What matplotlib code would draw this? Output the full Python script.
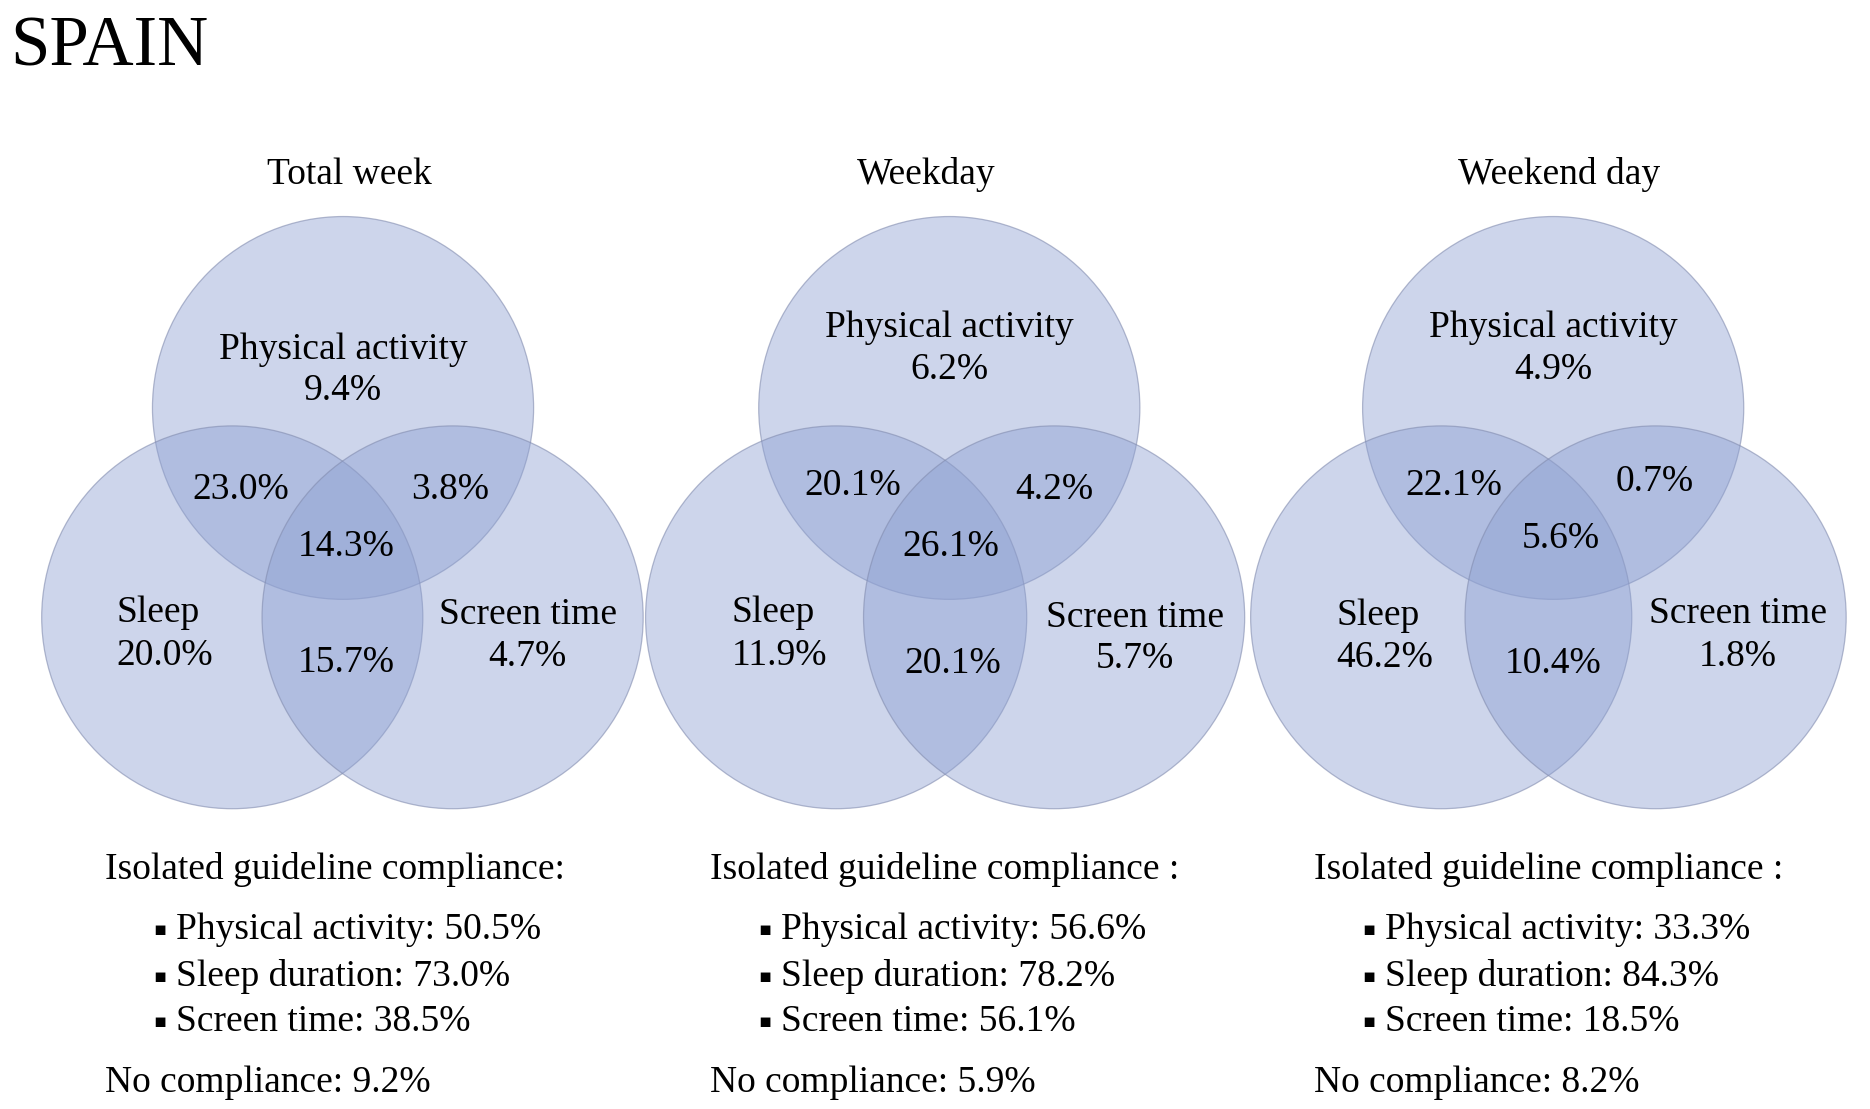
import matplotlib.pyplot as plt
from matplotlib.patches import Circle

# Venn diagrams of guideline compliance, Spain
panels = ["Total week", "Weekday", "Weekend day"]
pa_only = [9.4, 6.2, 4.9]
sleep_only = [20.0, 11.9, 46.2]
screen_only = [4.7, 5.7, 1.8]
pa_sleep = [23.0, 20.1, 22.1]
pa_screen = [3.8, 4.2, 0.7]
sleep_screen = [15.7, 20.1, 10.4]
all_three = [14.3, 26.1, 5.6]

headers = ["Isolated guideline compliance:",
           "Isolated guideline compliance :",
           "Isolated guideline compliance :"]
iso_pa = [50.5, 56.6, 33.3]
iso_sleep = [73.0, 78.2, 84.3]
iso_screen = [38.5, 56.1, 18.5]
no_compliance = [9.2, 5.9, 8.2]

# layout (page units, y down)
W, H = 1570, 927
panel_x = [0, 508, 1015]
R = 160
top_c = [(288, 341), (797, 341), (1304, 341)]
left_c = [(195, 516), (702, 516), (1210, 516)]
right_c = [(380, 516), (885, 516), (1390, 516)]
title_x = [293, 778, 1309]
pa_pos = [(288, 292, 327), (797, 274, 309), (1304, 274, 309)]
ps_pos = [(202, 409), (716, 406), (1221, 406)]
pt_pos = [(378, 409), (885, 409), (1389, 403)]
all_pos = [(291, 457), (798, 457), (1310, 450)]
sl_pos = [(98, 512, 548), (614, 512, 548), (1122, 515, 550)]
sc_pos = [(443, 514, 549), (953, 516, 551), (1459, 513, 549)]
st_pos = [(291, 554), (800, 555), (1304, 555)]

serif = ["Liberation Serif", "DejaVu Serif"]
fs = 27
fill = (141 / 255, 160 / 255, 210 / 255)
edge = (130 / 255, 140 / 255, 175 / 255)

fig = plt.figure(figsize=(18.7, 11.09), dpi=100)
ax = fig.add_axes([0, 0, 1, 1])
ax.set_xlim(0, W)
ax.set_ylim(H, 0)
ax.axis("off")

ax.text(9, 40, "SPAIN", fontsize=51, family=serif, ha="left", va="center")


def pct(v):
    return f"{v:.1f}%"


for i in range(3):
    for c in (top_c[i], left_c[i], right_c[i]):
        ax.add_patch(Circle(c, R, facecolor=fill, alpha=0.44, edgecolor="none"))
        ax.add_patch(Circle(c, R, facecolor="none", edgecolor=edge, lw=0.9, alpha=0.6))

    ax.text(title_x[i], 146, panels[i], fontsize=fs, family=serif, ha="center", va="center")

    x, y1, y2 = pa_pos[i]
    ax.text(x, y1, "Physical activity", fontsize=fs, family=serif, ha="center", va="center")
    ax.text(x, y2, pct(pa_only[i]), fontsize=fs, family=serif, ha="center", va="center")
    ax.text(*ps_pos[i], pct(pa_sleep[i]), fontsize=fs, family=serif, ha="center", va="center")
    ax.text(*pt_pos[i], pct(pa_screen[i]), fontsize=fs, family=serif, ha="center", va="center")
    ax.text(*all_pos[i], pct(all_three[i]), fontsize=fs, family=serif, ha="center", va="center")
    x, y1, y2 = sl_pos[i]
    ax.text(x, y1, "Sleep", fontsize=fs, family=serif, ha="left", va="center")
    ax.text(x, y2, pct(sleep_only[i]), fontsize=fs, family=serif, ha="left", va="center")
    x, y1, y2 = sc_pos[i]
    ax.text(x, y1, "Screen time", fontsize=fs, family=serif, ha="center", va="center")
    ax.text(x, y2, pct(screen_only[i]), fontsize=fs, family=serif, ha="center", va="center")
    ax.text(*st_pos[i], pct(sleep_screen[i]), fontsize=fs, family=serif, ha="center", va="center")

    # bottom summary
    x0 = 88 + panel_x[i]
    ax.text(x0, 727, headers[i], fontsize=fs, family=serif, ha="left", va="center")
    items = [("Physical activity", iso_pa[i]), ("Sleep duration", iso_sleep[i]),
             ("Screen time", iso_screen[i])]
    for (name, v), yy in zip(items, [777, 816, 854]):
        ax.text(x0 + 46, yy, "\u25aa", fontsize=14, family=["DejaVu Sans"], ha="center", va="center")
        ax.text(x0 + 60, yy, f"{name}: {pct(v)}", fontsize=fs, family=serif, ha="left", va="center")
    ax.text(x0, 905, f"No compliance: {pct(no_compliance[i])}", fontsize=fs, family=serif,
            ha="left", va="center")

fig.savefig("out.png", dpi=100)
